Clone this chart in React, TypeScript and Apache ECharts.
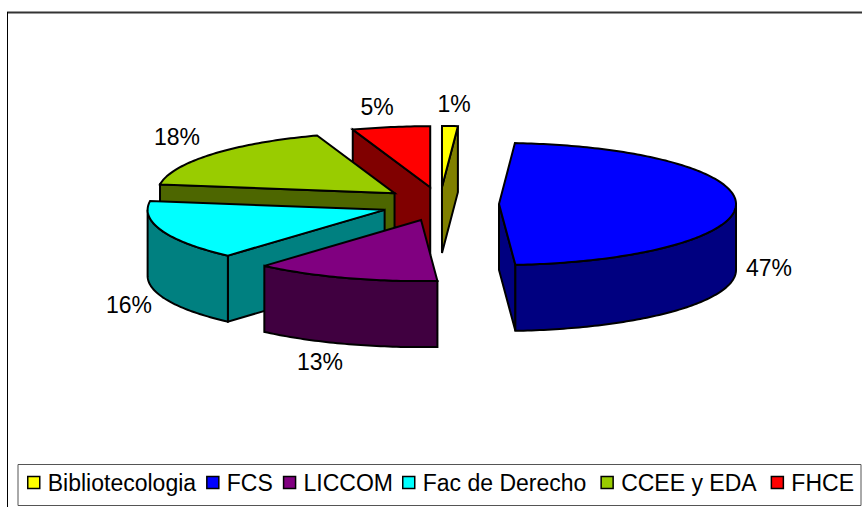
import React, { useEffect, useRef } from "react";
import * as echarts from "echarts";

const categories = ["Bibliotecologia", "FCS", "LICCOM", "Fac de Derecho", "CCEE y EDA", "FHCE"];
const shares = [1.07, 47.83, 12.6, 15.8, 17.4, 5.3];
const percentLabels = ["1%", "47%", "13%", "16%", "18%", "5%"];
const topColors = ["#FFFF00", "#0000FF", "#800080", "#00FFFF", "#99CC00", "#FF0000"];
const wallColors = ["#808000", "#000080", "#400040", "#008080", "#4D6600", "#800000"];
const drawOrder = [0, 5, 4, 3, 1, 2];

const labelPositions = [
  [454, 104],
  [769, 268],
  [320, 362],
  [129, 305],
  [177, 137],
  [377, 107],
];

const FONT_FAMILY = "'Liberation Sans', Arial, sans-serif";
const FONT = `23px ${FONT_FAMILY}`;
const PIE = { cx: 440, cy: 204, rx: 237, ry: 61, depth: 66, explodeX: 59, explodeY: 17 };

const total = shares.reduce((a, b) => a + b, 0);
const RAD = Math.PI / 180;

function sliceAngles(i: number) {
  const before = shares.slice(0, i).reduce((a, b) => a + b, 0);
  return [(before / total) * 360, ((before + shares[i]) / total) * 360];
}

function arcPoints(ax: number, ay: number, from: number, to: number, dy = 0) {
  const pts: number[][] = [];
  const n = Math.max(2, Math.ceil(Math.abs(to - from)));
  for (let k = 0; k <= n; k++) {
    const t = (from + ((to - from) * k) / n) * RAD;
    pts.push([ax + PIE.rx * Math.sin(t), ay - PIE.ry * Math.cos(t) + dy]);
  }
  return pts;
}

function renderSlice(i: number) {
  const [a0, a1] = sliceAngles(i);
  const mid = ((a0 + a1) / 2) * RAD;
  const ax = PIE.cx + PIE.explodeX * Math.sin(mid);
  const ay = PIE.cy - PIE.explodeY * Math.cos(mid);
  const stroke = { stroke: "#000", lineWidth: 2, lineJoin: "miter" };
  const wall = { fill: wallColors[i], ...stroke };
  const children: any[] = [];

  const radial = (deg: number) => {
    const t = deg * RAD;
    const px = ax + PIE.rx * Math.sin(t);
    const py = ay - PIE.ry * Math.cos(t);
    children.push({
      type: "polygon",
      shape: { points: [[ax, ay], [px, py], [px, py + PIE.depth], [ax, ay + PIE.depth]] },
      style: wall,
    });
  };
  if (Math.sin(a0 * RAD) < 0) radial(a0);
  if (Math.sin(a1 * RAD) > 0.0001) radial(a1);

  const from = Math.max(a0, 90);
  const to = Math.min(a1, 270);
  if (to > from) {
    const upper = arcPoints(ax, ay, from, to);
    const lower = arcPoints(ax, ay, to, from, PIE.depth);
    children.push({ type: "polygon", shape: { points: [...upper, ...lower] }, style: wall });
  }

  children.push({
    type: "polygon",
    shape: { points: [[ax, ay], ...arcPoints(ax, ay, a0, a1)] },
    style: { fill: topColors[i], ...stroke },
  });
  children.push({
    type: "text",
    x: labelPositions[i][0],
    y: labelPositions[i][1],
    style: {
      text: percentLabels[i],
      font: FONT,
      fill: "#000",
      align: "center",
      verticalAlign: "middle",
    },
  });
  return { type: "group", children };
}

const legendBase = {
  top: 471,
  padding: 0,
  itemWidth: 12,
  itemHeight: 12,
  selectedMode: false,
  textStyle: {
    fontSize: 23,
    fontFamily: FONT_FAMILY,
    color: "#000",
    padding: [0, 0, 12, 3],
  },
};

const legendItem = (i: number) => ({
  name: categories[i],
  icon: "rect",
  itemStyle: { color: topColors[i], borderColor: "#000", borderWidth: 1.5 },
});

export default function App() {
  const ref = useRef<HTMLDivElement>(null);
  useEffect(() => {
    document.body.style.margin = "0";
    const chart = echarts.init(ref.current!, null, { renderer: "svg" });
    chart.setOption({
      animation: false,
      backgroundColor: "#fff",
      legend: [
        { ...legendBase, left: 27, itemGap: 10, data: [0, 1, 2].map(legendItem) },
        { ...legendBase, left: 402, itemGap: 14, data: [3, 4, 5].map(legendItem) },
      ],
      graphic: [
        { type: "line", shape: { x1: 7, y1: 12.5, x2: 862, y2: 12.5 }, style: { stroke: "#333", lineWidth: 2 } },
        { type: "line", shape: { x1: 7.5, y1: 12, x2: 7.5, y2: 507 }, style: { stroke: "#000", lineWidth: 1 } },
        {
          type: "rect",
          z: -1,
          shape: { x: 18, y: 464.5, width: 843, height: 41 },
          style: { fill: "#fff", stroke: "#555", lineWidth: 1 },
        },
      ],
      series: drawOrder.map((i) => ({
        type: "custom",
        name: categories[i],
        coordinateSystem: "none",
        silent: true,
        z: 2,
        itemStyle: { color: topColors[i] },
        data: [[shares[i]]],
        renderItem: () => renderSlice(i),
      })),
    });
    return () => chart.dispose();
  }, []);
  return <div ref={ref} style={{ width: 862, height: 507 }} />;
}
